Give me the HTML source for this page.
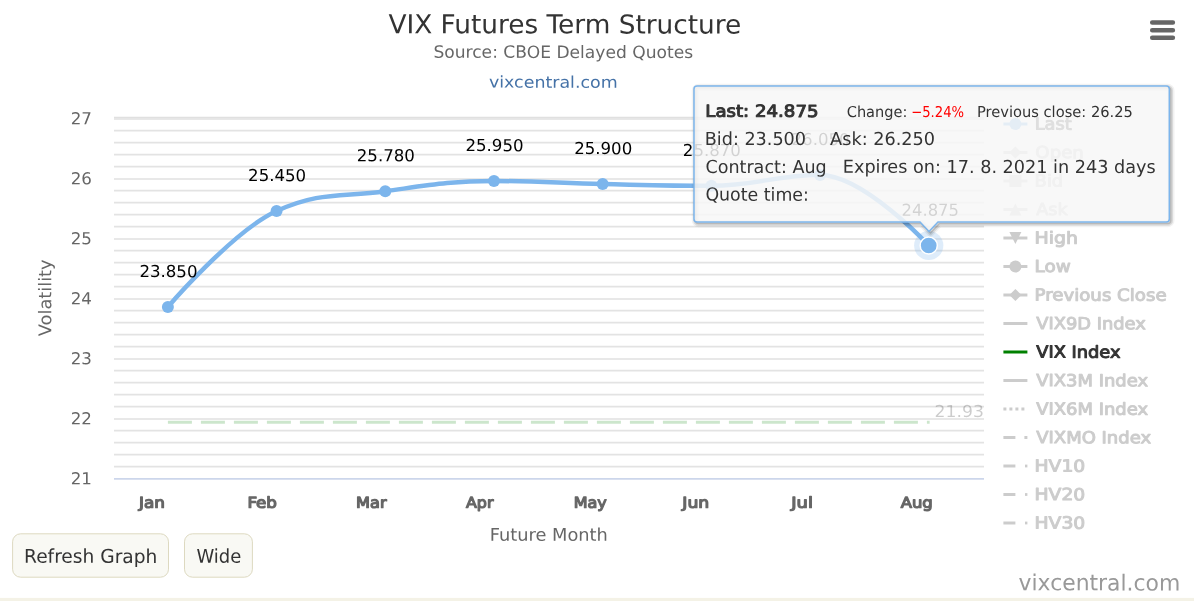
<!DOCTYPE html>
<html lang="en"><head><meta charset="utf-8"><title>VIX Futures Term Structure</title>
<style>html,body{margin:0;padding:0;background:#fff;overflow:hidden}svg text{white-space:pre}</style></head>
<body>
<svg width="1194" height="601" viewBox="0 0 1194 601" style="display:block">
<rect width="1194" height="601" fill="#fff"/>
<rect x="0" y="597.9" width="1194" height="3.5" fill="#f4f2e6"/>
<g fill="none"><path d="M114.0 466.70H984.0" stroke="#e3e3e3" stroke-width="1.7"/><path d="M114.0 454.70H984.0" stroke="#e3e3e3" stroke-width="1.7"/><path d="M114.0 442.70H984.0" stroke="#e3e3e3" stroke-width="1.7"/><path d="M114.0 430.70H984.0" stroke="#e3e3e3" stroke-width="1.7"/><path d="M114.0 419.00H984.0" stroke="#e0e0e0" stroke-width="1.7"/><path d="M114.0 406.70H984.0" stroke="#e3e3e3" stroke-width="1.7"/><path d="M114.0 394.70H984.0" stroke="#e3e3e3" stroke-width="1.7"/><path d="M114.0 382.70H984.0" stroke="#e3e3e3" stroke-width="1.7"/><path d="M114.0 370.70H984.0" stroke="#e3e3e3" stroke-width="1.7"/><path d="M114.0 359.00H984.0" stroke="#e0e0e0" stroke-width="1.7"/><path d="M114.0 346.70H984.0" stroke="#e3e3e3" stroke-width="1.7"/><path d="M114.0 334.70H984.0" stroke="#e3e3e3" stroke-width="1.7"/><path d="M114.0 322.70H984.0" stroke="#e3e3e3" stroke-width="1.7"/><path d="M114.0 310.70H984.0" stroke="#e3e3e3" stroke-width="1.7"/><path d="M114.0 299.00H984.0" stroke="#e0e0e0" stroke-width="1.7"/><path d="M114.0 286.70H984.0" stroke="#e3e3e3" stroke-width="1.7"/><path d="M114.0 274.70H984.0" stroke="#e3e3e3" stroke-width="1.7"/><path d="M114.0 262.70H984.0" stroke="#e3e3e3" stroke-width="1.7"/><path d="M114.0 250.70H984.0" stroke="#e3e3e3" stroke-width="1.7"/><path d="M114.0 239.00H984.0" stroke="#e0e0e0" stroke-width="1.7"/><path d="M114.0 226.70H984.0" stroke="#e3e3e3" stroke-width="1.7"/><path d="M114.0 214.70H984.0" stroke="#e3e3e3" stroke-width="1.7"/><path d="M114.0 202.70H984.0" stroke="#e3e3e3" stroke-width="1.7"/><path d="M114.0 190.70H984.0" stroke="#e3e3e3" stroke-width="1.7"/><path d="M114.0 179.00H984.0" stroke="#e0e0e0" stroke-width="1.7"/><path d="M114.0 166.70H984.0" stroke="#e3e3e3" stroke-width="1.7"/><path d="M114.0 154.70H984.0" stroke="#e3e3e3" stroke-width="1.7"/><path d="M114.0 142.70H984.0" stroke="#e3e3e3" stroke-width="1.7"/><path d="M114.0 130.70H984.0" stroke="#e3e3e3" stroke-width="1.7"/><path d="M114.0 119.00H984.0" stroke="#e0e0e0" stroke-width="1.7"/><path d="M114.0 117.4H984.0" stroke="#e0e0e0" stroke-width="1.5"/></g>
<path d="M114.0 478.9H984.0" stroke="#ccd6eb" stroke-width="1.9" fill="none"/>
<g opacity="0.2"><path d="M167.90 422.20H929.63" stroke="#008000" stroke-width="3" stroke-dasharray="24 9" fill="none"/></g>
<path d="M167.90 307.00 C167.90 307.00 233.11 230.80 276.59 211.00 C320.07 191.20 341.80 197.20 385.28 191.20 C428.76 185.20 450.49 181.00 493.97 181.00 C537.45 181.00 559.18 183.04 602.66 184.00 C646.14 184.96 667.87 185.80 711.35 185.80 C754.83 185.80 776.56 175.00 820.04 175.00 C863.52 175.00 928.73 245.50 928.73 245.50" stroke="#7cb5ec" stroke-width="4.5" fill="none" stroke-linejoin="round" stroke-linecap="round"/>
<circle cx="167.90" cy="307.00" r="6" fill="#7cb5ec"/>
<circle cx="276.59" cy="211.00" r="6" fill="#7cb5ec"/>
<circle cx="385.28" cy="191.20" r="6" fill="#7cb5ec"/>
<circle cx="493.97" cy="181.00" r="6" fill="#7cb5ec"/>
<circle cx="602.66" cy="184.00" r="6" fill="#7cb5ec"/>
<circle cx="711.35" cy="185.80" r="6" fill="#7cb5ec"/>
<circle cx="820.04" cy="175.00" r="6" fill="#7cb5ec"/>
<circle cx="928.73" cy="245.50" r="14.6" fill="#7cb5ec" fill-opacity="0.25"/>
<circle cx="928.73" cy="245.50" r="8.6" fill="#7cb5ec" stroke="#fff" stroke-width="1.5"/>
<clipPath id="pc"><rect x="113" y="100" width="870.6" height="380"/></clipPath>
<text transform="translate(139.39,277.10) rotate(0.05) scale(1.0066,1)" font-family="'DejaVu Sans','Liberation Sans',sans-serif" font-size="16.5" fill="#000">23.850</text>
<text transform="translate(248.08,181.10) rotate(0.05) scale(1.0066,1)" font-family="'DejaVu Sans','Liberation Sans',sans-serif" font-size="16.5" fill="#000">25.450</text>
<text transform="translate(356.77,161.30) rotate(0.05) scale(1.0066,1)" font-family="'DejaVu Sans','Liberation Sans',sans-serif" font-size="16.5" fill="#000">25.780</text>
<text transform="translate(465.46,151.10) rotate(0.05) scale(1.0066,1)" font-family="'DejaVu Sans','Liberation Sans',sans-serif" font-size="16.5" fill="#000">25.950</text>
<text transform="translate(574.15,154.10) rotate(0.05) scale(1.0066,1)" font-family="'DejaVu Sans','Liberation Sans',sans-serif" font-size="16.5" fill="#000">25.900</text>
<text transform="translate(682.84,155.90) rotate(0.05) scale(1.0066,1)" font-family="'DejaVu Sans','Liberation Sans',sans-serif" font-size="16.5" fill="#000">25.870</text>
<text transform="translate(791.53,145.10) rotate(0.05) scale(1.0066,1)" font-family="'DejaVu Sans','Liberation Sans',sans-serif" font-size="16.5" fill="#000">26.050</text>
<text transform="translate(901.61,215.80) rotate(0.05) scale(0.9939,1)" font-family="'DejaVu Sans','Liberation Sans',sans-serif" font-size="16.5" fill="#000">24.875</text>
<g opacity="0.2" clip-path="url(#pc)"><text transform="translate(934.55,416.90) rotate(0.05) scale(1.0438,1)" font-family="'DejaVu Sans','Liberation Sans',sans-serif" font-size="16.5" fill="#000">21.93</text></g>
<text transform="translate(388.40,33.20) rotate(0.05) scale(1.0133,1)" font-family="'DejaVu Sans','Liberation Sans',sans-serif" font-size="26" fill="#333">VIX Futures Term Structure</text>
<text transform="translate(433.39,57.80) rotate(0.05) scale(1.0068,1)" font-family="'DejaVu Sans','Liberation Sans',sans-serif" font-size="17" fill="#666">Source: CBOE Delayed Quotes</text>
<text transform="translate(488.96,87.60) rotate(0.05) scale(1.0896,1)" font-family="'DejaVu Sans','Liberation Sans',sans-serif" font-size="16" fill="#4572a7">vixcentral.com</text>
<text transform="translate(70.69,124.30) rotate(0.05) scale(1.0111,1)" font-family="'DejaVu Sans','Liberation Sans',sans-serif" font-size="16.5" fill="#666">27</text>
<text transform="translate(70.69,184.30) rotate(0.05) scale(1.0111,1)" font-family="'DejaVu Sans','Liberation Sans',sans-serif" font-size="16.5" fill="#666">26</text>
<text transform="translate(70.69,244.30) rotate(0.05) scale(1.0111,1)" font-family="'DejaVu Sans','Liberation Sans',sans-serif" font-size="16.5" fill="#666">25</text>
<text transform="translate(70.69,304.30) rotate(0.05) scale(1.0111,1)" font-family="'DejaVu Sans','Liberation Sans',sans-serif" font-size="16.5" fill="#666">24</text>
<text transform="translate(70.69,364.30) rotate(0.05) scale(1.0111,1)" font-family="'DejaVu Sans','Liberation Sans',sans-serif" font-size="16.5" fill="#666">23</text>
<text transform="translate(70.69,424.30) rotate(0.05) scale(1.0111,1)" font-family="'DejaVu Sans','Liberation Sans',sans-serif" font-size="16.5" fill="#666">22</text>
<text transform="translate(70.69,484.30) rotate(0.05) scale(1.0111,1)" font-family="'DejaVu Sans','Liberation Sans',sans-serif" font-size="16.5" fill="#666">21</text>
<text transform="translate(138.98,507.80) rotate(0.05) scale(1.1318,1)" font-family="'DejaVu Sans','Liberation Sans',sans-serif" font-size="14.85" stroke="#666" stroke-width="1.20" stroke-linejoin="round" fill="#666">Jan</text>
<text transform="translate(247.40,507.80) rotate(0.05) scale(1.1236,1)" font-family="'DejaVu Sans','Liberation Sans',sans-serif" font-size="14.85" stroke="#666" stroke-width="1.20" stroke-linejoin="round" fill="#666">Feb</text>
<text transform="translate(356.03,507.80) rotate(0.05) scale(1.0891,1)" font-family="'DejaVu Sans','Liberation Sans',sans-serif" font-size="14.85" stroke="#666" stroke-width="1.20" stroke-linejoin="round" fill="#666">Mar</text>
<text transform="translate(465.94,507.80) rotate(0.05) scale(1.0712,1)" font-family="'DejaVu Sans','Liberation Sans',sans-serif" font-size="14.85" stroke="#666" stroke-width="1.20" stroke-linejoin="round" fill="#666">Apr</text>
<text transform="translate(573.64,507.80) rotate(0.05) scale(1.0793,1)" font-family="'DejaVu Sans','Liberation Sans',sans-serif" font-size="14.85" stroke="#666" stroke-width="1.20" stroke-linejoin="round" fill="#666">May</text>
<text transform="translate(682.32,507.80) rotate(0.05) scale(1.1588,1)" font-family="'DejaVu Sans','Liberation Sans',sans-serif" font-size="14.85" stroke="#666" stroke-width="1.20" stroke-linejoin="round" fill="#666">Jun</text>
<text transform="translate(791.29,507.80) rotate(0.05) scale(1.2049,1)" font-family="'DejaVu Sans','Liberation Sans',sans-serif" font-size="14.85" stroke="#666" stroke-width="1.20" stroke-linejoin="round" fill="#666">Jul</text>
<text transform="translate(900.65,507.80) rotate(0.05) scale(1.1088,1)" font-family="'DejaVu Sans','Liberation Sans',sans-serif" font-size="14.85" stroke="#666" stroke-width="1.20" stroke-linejoin="round" fill="#666">Aug</text>
<text transform="translate(489.77,540.70) rotate(0.05) scale(1.0172,1)" font-family="'DejaVu Sans','Liberation Sans',sans-serif" font-size="17.5" fill="#666">Future Month</text>
<text transform="translate(51.3,336.20) rotate(-90.05) scale(1.0171,1)" font-family="'DejaVu Sans','Liberation Sans',sans-serif" font-size="17.5" fill="#666">Volatility</text>
<path d="M1003.4 124.00H1027.4" stroke="#7cb5ec" stroke-width="3" fill="none"/><circle cx="1015.4" cy="124.00" r="6" fill="#7cb5ec"/><path d="M1003.4 152.50H1027.4" stroke="#ccc" stroke-width="3" fill="none"/><path d="M1015.4 146.50L1021.4 152.50L1015.4 158.50L1009.4 152.50Z" fill="#ccc"/><path d="M1003.4 181.00H1027.4" stroke="#ccc" stroke-width="3" fill="none"/><rect x="1009.4" y="175.00" width="12" height="12" fill="#ccc"/><path d="M1003.4 209.50H1027.4" stroke="#ccc" stroke-width="3" fill="none"/><path d="M1015.4 203.50L1021.4 215.50L1009.4 215.50Z" fill="#ccc"/><path d="M1003.4 238.00H1027.4" stroke="#ccc" stroke-width="3" fill="none"/><path d="M1009.4 232.00L1021.4 232.00L1015.4 244.00Z" fill="#ccc"/><path d="M1003.4 266.50H1027.4" stroke="#ccc" stroke-width="3" fill="none"/><circle cx="1015.4" cy="266.50" r="6" fill="#ccc"/><path d="M1003.4 295.00H1027.4" stroke="#ccc" stroke-width="3" fill="none"/><path d="M1015.4 289.00L1021.4 295.00L1015.4 301.00L1009.4 295.00Z" fill="#ccc"/><path d="M1003.4 323.50H1027.4" stroke="#ccc" stroke-width="3" fill="none"/><path d="M1003.4 352.00H1027.4" stroke="#008000" stroke-width="3" fill="none"/><path d="M1003.4 380.50H1027.4" stroke="#ccc" stroke-width="3" fill="none"/><path d="M1003.4 409.00H1027.4" stroke="#ccc" stroke-width="3" fill="none" stroke-dasharray="3 3"/><path d="M1003.4 437.50H1027.4" stroke="#ccc" stroke-width="3" fill="none" stroke-dasharray="12 9 3 9"/><path d="M1003.4 466.00H1015.4" stroke="#ccc" stroke-width="3" fill="none"/><rect x="1025.0" y="464.60" width="2.4" height="2.8" fill="#ccc"/><path d="M1003.4 494.50H1015.4" stroke="#ccc" stroke-width="3" fill="none"/><rect x="1025.0" y="493.10" width="2.4" height="2.8" fill="#ccc"/><path d="M1003.4 523.00H1015.4" stroke="#ccc" stroke-width="3" fill="none"/><rect x="1025.0" y="521.60" width="2.4" height="2.8" fill="#ccc"/>
<text transform="translate(1034.63,129.60) rotate(0.05) scale(1.0676,1)" font-family="'DejaVu Sans','Liberation Sans',sans-serif" font-size="16.63" stroke="#555" stroke-width="1.00" stroke-linejoin="round" fill="#555">Last</text>
<text transform="translate(1035.36,158.10) rotate(0.05) scale(1.0909,1)" font-family="'DejaVu Sans','Liberation Sans',sans-serif" font-size="16.63" stroke="#ccc" stroke-width="1.00" stroke-linejoin="round" fill="#ccc">Open</text>
<text transform="translate(1034.62,186.60) rotate(0.05) scale(1.0763,1)" font-family="'DejaVu Sans','Liberation Sans',sans-serif" font-size="16.63" stroke="#ccc" stroke-width="1.00" stroke-linejoin="round" fill="#ccc">Bid</text>
<text transform="translate(1036.22,215.10) rotate(0.05) scale(1.0609,1)" font-family="'DejaVu Sans','Liberation Sans',sans-serif" font-size="16.63" stroke="#ccc" stroke-width="1.00" stroke-linejoin="round" fill="#ccc">Ask</text>
<text transform="translate(1034.55,243.60) rotate(0.05) scale(1.1383,1)" font-family="'DejaVu Sans','Liberation Sans',sans-serif" font-size="16.63" stroke="#ccc" stroke-width="1.00" stroke-linejoin="round" fill="#ccc">High</text>
<text transform="translate(1034.58,272.10) rotate(0.05) scale(1.1063,1)" font-family="'DejaVu Sans','Liberation Sans',sans-serif" font-size="16.63" stroke="#ccc" stroke-width="1.00" stroke-linejoin="round" fill="#ccc">Low</text>
<text transform="translate(1034.60,300.60) rotate(0.05) scale(1.0926,1)" font-family="'DejaVu Sans','Liberation Sans',sans-serif" font-size="16.63" stroke="#ccc" stroke-width="1.00" stroke-linejoin="round" fill="#ccc">Previous Close</text>
<text transform="translate(1036.23,329.10) rotate(0.05) scale(1.0733,1)" font-family="'DejaVu Sans','Liberation Sans',sans-serif" font-size="16.63" stroke="#ccc" stroke-width="1.00" stroke-linejoin="round" fill="#ccc">VIX9D Index</text>
<text transform="translate(1036.23,357.60) rotate(0.05) scale(1.0708,1)" font-family="'DejaVu Sans','Liberation Sans',sans-serif" font-size="16.63" stroke="#333" stroke-width="1.00" stroke-linejoin="round" fill="#333">VIX Index</text>
<text transform="translate(1036.23,386.10) rotate(0.05) scale(1.0795,1)" font-family="'DejaVu Sans','Liberation Sans',sans-serif" font-size="16.63" stroke="#ccc" stroke-width="1.00" stroke-linejoin="round" fill="#ccc">VIX3M Index</text>
<text transform="translate(1036.23,414.60) rotate(0.05) scale(1.0795,1)" font-family="'DejaVu Sans','Liberation Sans',sans-serif" font-size="16.63" stroke="#ccc" stroke-width="1.00" stroke-linejoin="round" fill="#ccc">VIX6M Index</text>
<text transform="translate(1036.23,443.10) rotate(0.05) scale(1.0823,1)" font-family="'DejaVu Sans','Liberation Sans',sans-serif" font-size="16.63" stroke="#ccc" stroke-width="1.00" stroke-linejoin="round" fill="#ccc">VIXMO Index</text>
<text transform="translate(1034.56,471.60) rotate(0.05) scale(1.1254,1)" font-family="'DejaVu Sans','Liberation Sans',sans-serif" font-size="16.63" stroke="#ccc" stroke-width="1.00" stroke-linejoin="round" fill="#ccc">HV10</text>
<text transform="translate(1034.56,500.10) rotate(0.05) scale(1.1254,1)" font-family="'DejaVu Sans','Liberation Sans',sans-serif" font-size="16.63" stroke="#ccc" stroke-width="1.00" stroke-linejoin="round" fill="#ccc">HV20</text>
<text transform="translate(1034.56,528.60) rotate(0.05) scale(1.1254,1)" font-family="'DejaVu Sans','Liberation Sans',sans-serif" font-size="16.63" stroke="#ccc" stroke-width="1.00" stroke-linejoin="round" fill="#ccc">HV30</text>
<path d="M1152.2 22.6H1172.9M1152.2 30.2H1172.9M1152.2 37.7H1172.9" stroke="#666" stroke-width="4.5" stroke-linecap="round" fill="none"/>
<g fill="none" stroke="#000" stroke-linejoin="round" transform="translate(1.5,1.5)"><path d="M697.0 86.0H1166.3A3 3 0 0 1 1169.3 89.0V219.0A3 3 0 0 1 1166.3 222.0H938.0L929.0 231.5L920.0 222.0H697.0A3 3 0 0 1 694.0 219.0V89.0A3 3 0 0 1 697.0 86.0Z" stroke-opacity="0.05" stroke-width="7.5"/><path d="M697.0 86.0H1166.3A3 3 0 0 1 1169.3 89.0V219.0A3 3 0 0 1 1166.3 222.0H938.0L929.0 231.5L920.0 222.0H697.0A3 3 0 0 1 694.0 219.0V89.0A3 3 0 0 1 697.0 86.0Z" stroke-opacity="0.1" stroke-width="4.5"/><path d="M697.0 86.0H1166.3A3 3 0 0 1 1169.3 89.0V219.0A3 3 0 0 1 1166.3 222.0H938.0L929.0 231.5L920.0 222.0H697.0A3 3 0 0 1 694.0 219.0V89.0A3 3 0 0 1 697.0 86.0Z" stroke-opacity="0.15" stroke-width="1.5"/></g>
<path d="M697.0 86.0H1166.3A3 3 0 0 1 1169.3 89.0V219.0A3 3 0 0 1 1166.3 222.0H938.0L929.0 231.5L920.0 222.0H697.0A3 3 0 0 1 694.0 219.0V89.0A3 3 0 0 1 697.0 86.0Z" fill="#f7f7f7" fill-opacity="0.85" stroke="#7cb5ec" stroke-width="1.5"/>
<text transform="translate(705.30,116.80) rotate(0.05) scale(1.0920,1)" font-family="'DejaVu Sans','Liberation Sans',sans-serif" font-size="16.63" stroke="#333" stroke-width="1.00" stroke-linejoin="round" fill="#333">Last: 24.875</text>
<text transform="translate(846.72,116.90) rotate(0.05) scale(0.9712,1)" font-family="'DejaVu Sans','Liberation Sans',sans-serif" font-size="15" fill="#333">Change:</text>
<text transform="translate(911.18,116.90) rotate(0.05) scale(0.8798,1)" font-family="'DejaVu Sans','Liberation Sans',sans-serif" font-size="15" fill="#f00">−5.24%</text>
<text transform="translate(976.93,116.90) rotate(0.05) scale(0.9776,1)" font-family="'DejaVu Sans','Liberation Sans',sans-serif" font-size="15" fill="#333">Previous close: 26.25</text>
<text transform="translate(704.74,145.00) rotate(0.05) scale(0.9782,1)" font-family="'DejaVu Sans','Liberation Sans',sans-serif" font-size="18" fill="#333">Bid: 23.500</text>
<text transform="translate(830.10,145.00) rotate(0.05) scale(0.9827,1)" font-family="'DejaVu Sans','Liberation Sans',sans-serif" font-size="18" fill="#333">Ask: 26.250</text>
<text transform="translate(705.42,173.00) rotate(0.05) scale(0.9759,1)" font-family="'DejaVu Sans','Liberation Sans',sans-serif" font-size="18" fill="#333">Contract: Aug</text>
<text transform="translate(842.83,172.80) rotate(0.05) scale(0.9803,1)" font-family="'DejaVu Sans','Liberation Sans',sans-serif" font-size="18" fill="#333">Expires on: 17. 8. 2021 in 243 days</text>
<text transform="translate(705.43,200.60) rotate(0.05) scale(0.9653,1)" font-family="'DejaVu Sans','Liberation Sans',sans-serif" font-size="18" fill="#333">Quote time:</text>
<rect x="12.6" y="533.8" width="155.9" height="43.4" rx="8" fill="#f9f9f4" stroke="#ddd9c0" stroke-width="1"/>
<rect x="184.5" y="533.8" width="67.9" height="43.4" rx="8" fill="#f9f9f4" stroke="#ddd9c0" stroke-width="1"/>
<text transform="translate(24.04,562.80) rotate(0.05) scale(0.9802,1)" font-family="'DejaVu Sans','Liberation Sans',sans-serif" font-size="19" fill="#333">Refresh Graph</text>
<text transform="translate(196.43,562.80) rotate(0.05) scale(0.9474,1)" font-family="'DejaVu Sans','Liberation Sans',sans-serif" font-size="19" fill="#333">Wide</text>
<text transform="translate(1018.51,590.30) rotate(0.05) scale(0.9868,1)" font-family="'DejaVu Sans','Liberation Sans',sans-serif" font-size="22.2" fill="#999">vixcentral.com</text>
</svg>
</body></html>
